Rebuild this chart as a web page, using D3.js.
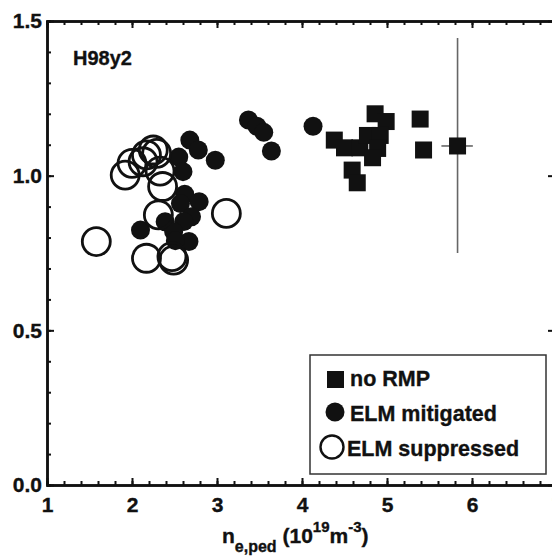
<!DOCTYPE html>
<html>
<head>
<meta charset="utf-8">
<script src="https://cdn.jsdelivr.net/npm/d3@7/dist/d3.min.js"></script>
<style>
  html, body { margin: 0; padding: 0; background: #fff; }
  svg { display: block; }
  text { font-family: "Liberation Sans", Arial, Helvetica, sans-serif; font-weight: bold; fill: #111; stroke: #111; stroke-width: 0.35px; }
</style>
</head>
<body>
<svg id="chart" width="552" height="559"></svg>
<script>
// ---- data ----
const xTicks = [1, 2, 3, 4, 5, 6, 7];
const yTicks = [0.0, 0.5, 1.0, 1.5];
const yTickLabels = ["0.0", "0.5", "1.0", "1.5"];

// no RMP (filled squares)
const noRmpX = [5.39, 5.43, 5.83, 4.86, 4.99, 4.38, 4.50, 4.68, 4.77, 4.92, 4.89, 4.83, 4.59, 4.65];
const noRmpY = [1.183, 1.083, 1.096, 1.200, 1.175, 1.115, 1.090, 1.090, 1.130, 1.130, 1.088, 1.058, 1.018, 0.977];

// ELM mitigated (filled circles)
const mitX = [4.13, 3.37, 3.47, 3.55, 3.64, 2.68, 2.78, 2.98, 2.55, 2.60, 2.62, 2.57, 2.79, 2.70, 2.61, 2.39, 2.10, 2.49, 2.67, 2.51];
const mitY = [1.160, 1.180, 1.160, 1.140, 1.080, 1.115, 1.083, 1.050, 1.060, 1.013, 0.940, 0.910, 0.916, 0.867, 0.852, 0.851, 0.824, 0.819, 0.787, 0.790];

// ELM suppressed (open circles)
const supX = [1.58, 1.92, 2.00, 2.13, 2.17, 2.25, 2.29, 2.33, 2.36, 2.31, 3.11, 2.17, 2.47, 2.49];
const supY = [0.787, 1.002, 1.040, 1.045, 1.067, 1.083, 1.072, 1.015, 0.965, 0.873, 0.878, 0.733, 0.738, 0.727];

// error bar on one no-RMP point
const errX = [5.83], errY = [1.096];
const errYLow = [0.75], errYHigh = [1.445];
const errXLow = [5.64], errXHigh = [6.01];

// ---- chart ----
const svg = d3.select("#chart");
const x = d3.scaleLinear().domain([1, 7]).range([47, 557]);
const y = d3.scaleLinear().domain([0, 1.5]).range([485, 21]);
const FS = 21;

// error bars (drawn beneath markers)
const eg = svg.append("g").attr("stroke", "#666").attr("stroke-width", 1.6);
errX.forEach((v, i) => {
  eg.append("line").attr("x1", x(v)).attr("x2", x(v)).attr("y1", y(errYLow[i])).attr("y2", y(errYHigh[i]));
  eg.append("line").attr("x1", x(errXLow[i])).attr("x2", x(errXHigh[i])).attr("y1", y(errY[i])).attr("y2", y(errY[i]));
});

// filled circles
svg.append("g").selectAll("circle").data(mitX).join("circle")
  .attr("cx", (d) => x(d)).attr("cy", (d, i) => y(mitY[i])).attr("r", 9.5)
  .attr("fill", "#111");

// open circles
svg.append("g").selectAll("circle").data(supX).join("circle")
  .attr("cx", (d) => x(d)).attr("cy", (d, i) => y(supY[i])).attr("r", 14)
  .attr("fill", "none").attr("stroke", "#111").attr("stroke-width", 2.8);

// squares
const S = 17;
svg.append("g").selectAll("rect").data(noRmpX).join("rect")
  .attr("x", (d) => x(d) - S / 2).attr("y", (d, i) => y(noRmpY[i]) - S / 2)
  .attr("width", S).attr("height", S).attr("fill", "#111");

// axes
function styleAxis(g) {
  g.selectAll(".domain").attr("stroke", "#111").attr("stroke-width", 2.5);
  g.selectAll(".tick line").attr("stroke", "#111").attr("stroke-width", 2);
  g.selectAll(".tick text").attr("font-size", FS).attr("font-family", null).attr("fill", "#111");
}
const xMinor = d3.range(1, 7.001, 0.2).map((v) => +v.toFixed(2));
const yMinor = d3.range(0, 1.5001, 0.1).map((v) => +v.toFixed(2));

// bottom
svg.append("g").attr("transform", "translate(0,485)")
  .call(d3.axisBottom(x).tickValues(xMinor).tickSize(-4).tickFormat(""))
  .call(styleAxis);
svg.append("g").attr("transform", "translate(0,485)")
  .call(d3.axisBottom(x).tickValues(xTicks).tickSizeInner(-7).tickSizeOuter(0).tickPadding(12).tickFormat(d3.format("d")))
  .call(styleAxis);
// top
svg.append("g").attr("transform", "translate(0,21)")
  .call(d3.axisTop(x).tickValues(xMinor).tickSize(-4).tickFormat(""))
  .call(styleAxis);
svg.append("g").attr("transform", "translate(0,21)")
  .call(d3.axisTop(x).tickValues(xTicks).tickSizeInner(-7).tickSizeOuter(0).tickFormat(""))
  .call(styleAxis);
// left
svg.append("g").attr("transform", "translate(47,0)")
  .call(d3.axisLeft(y).tickValues(yMinor).tickSize(-4).tickFormat(""))
  .call(styleAxis);
svg.append("g").attr("transform", "translate(47,0)")
  .call(d3.axisLeft(y).tickValues(yTicks).tickSizeInner(-7).tickSizeOuter(0).tickPadding(5)
    .tickFormat((d, i) => yTickLabels[i]))
  .call(styleAxis);
// right
svg.append("g").attr("transform", "translate(557,0)")
  .call(d3.axisRight(y).tickValues(yMinor).tickSize(-5).tickFormat(""))
  .call(styleAxis);
svg.append("g").attr("transform", "translate(557,0)")
  .call(d3.axisRight(y).tickValues(yTicks).tickSizeInner(-9).tickSizeOuter(0).tickFormat(""))
  .call(styleAxis);

// panel label
svg.append("text").attr("x", 73).attr("y", 65).attr("font-size", 20).text("H98y2");

// x-axis title
const xt = svg.append("text").attr("x", 222).attr("y", 543).attr("font-size", FS);
xt.append("tspan").text("n");
xt.append("tspan").attr("dy", 9).attr("font-size", 16).text("e,ped");
xt.append("tspan").attr("dy", -9).text(" (10");
xt.append("tspan").attr("dy", -11).attr("font-size", 15).text("19");
xt.append("tspan").attr("dy", 11).text("m");
xt.append("tspan").attr("dy", -11).attr("font-size", 15).text("-3");
xt.append("tspan").attr("dy", 11).text(")");

// legend
const lg = svg.append("g");
lg.append("rect").attr("x", 310).attr("y", 355).attr("width", 236).attr("height", 119)
  .attr("fill", "#fff").attr("stroke", "#333").attr("stroke-width", 1.5);
const legendLabels = ["no RMP", "ELM mitigated", "ELM suppressed"];
lg.append("rect").attr("x", 327).attr("y", 371).attr("width", S).attr("height", S).attr("fill", "#111");
lg.append("circle").attr("cx", 335).attr("cy", 412).attr("r", 9.5).attr("fill", "#111");
lg.append("circle").attr("cx", 332).attr("cy", 447).attr("r", 11.5).attr("fill", "none").attr("stroke", "#111").attr("stroke-width", 2.4);
lg.append("text").attr("x", 350).attr("y", 386).attr("font-size", 21.5).text(legendLabels[0]);
lg.append("text").attr("x", 350).attr("y", 421).attr("font-size", 21.5).text(legendLabels[1]);
lg.append("text").attr("x", 347).attr("y", 456).attr("font-size", 21.5).text(legendLabels[2]);
</script>
</body>
</html>
